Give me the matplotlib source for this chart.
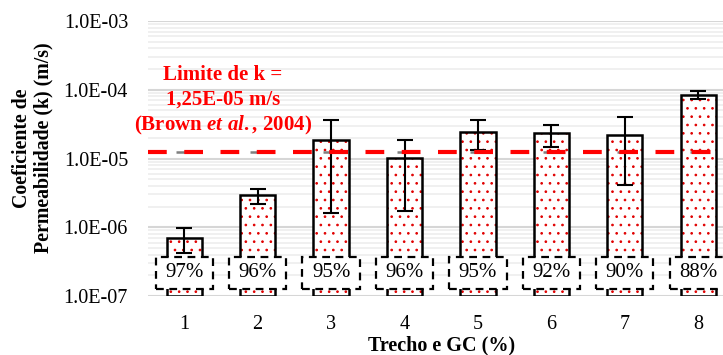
import matplotlib
matplotlib.use("Agg")
import matplotlib.pyplot as plt
from matplotlib.patches import Rectangle
from matplotlib.ticker import FixedLocator, FuncFormatter, LogLocator, NullFormatter
import numpy as np

# dados
trechos = ["1", "2", "3", "4", "5", "6", "7", "8"]
gc_labels = ["97%", "96%", "95%", "96%", "95%", "92%", "90%", "88%"]
k_medio = [6.9e-7, 2.9e-6, 1.86e-5, 1.03e-5, 2.45e-5, 2.32e-5, 2.2e-5, 8.4e-5]
k_max = [9.7e-7, 3.6e-6, 3.6e-5, 1.86e-5, 3.6e-5, 3.1e-5, 3.97e-5, 9.6e-5]
k_min = [4.2e-7, 2.2e-6, 1.63e-6, 1.7e-6, 1.33e-5, 1.49e-5, 4.1e-6, 7.3e-5]
k_limite = 1.25e-5

plt.rcParams['font.family'] = ['Liberation Serif', 'DejaVu Serif']
plt.rcParams['mathtext.fontset'] = 'custom'
plt.rcParams['mathtext.rm'] = 'Liberation Serif:bold'
plt.rcParams['mathtext.it'] = 'Liberation Serif:italic:bold'
plt.rcParams['hatch.linewidth'] = 0.7

W, H = 723, 355
fig = plt.figure(figsize=(W / 100, H / 100), dpi=100)
# eixo passa um pouco da borda direita como no original
ax = fig.add_axes([147.5 / W, (H - 296) / H, (735 - 147.5) / W, (296 - 21) / H])

x = np.arange(1, len(trechos) + 1)
base = 1e-7
alturas = np.array(k_medio) - base
err_low = np.array(k_medio) - np.array(k_min)
err_up = np.array(k_max) - np.array(k_medio)

ax.set_yscale('log')
ax.set_ylim(1e-7, 1e-3)
ax.set_xlim(0.5, 8.5)

# grade
ax.yaxis.set_major_locator(FixedLocator([1e-7, 1e-6, 1e-5, 1e-4, 1e-3]))
ax.yaxis.set_minor_locator(LogLocator(base=10, subs=np.arange(2, 10)))
ax.yaxis.set_minor_formatter(NullFormatter())
ax.yaxis.set_major_formatter(FuncFormatter(lambda v, p: "1.0E%03d" % int(round(np.log10(v)))))
ax.grid(True, which='major', axis='y', color='#d6d6d6', lw=1.5, zorder=0)
ax.grid(True, which='minor', axis='y', color='#eeeeee', lw=1.2, zorder=0)
ax.set_axisbelow(True)
for s in ax.spines.values():
    s.set_visible(False)
ax.tick_params(axis='both', which='both', length=0)
ax.tick_params(axis='y', labelsize=14.5, pad=14)
ax.tick_params(axis='x', labelsize=14.5, pad=14)
ax.set_xticks(x)
ax.set_xticklabels(trechos)

# barras: pontilhado vermelho + contorno preto
ax.bar(x, alturas, bottom=base, width=0.48, facecolor='white', edgecolor='#e00000',
       hatch='..', linewidth=0, zorder=2)
ax.bar(x, alturas, bottom=base, width=0.48, facecolor='none', edgecolor='black',
       linewidth=1.8, zorder=3)
ax.errorbar(x, k_medio, yerr=[err_low, err_up], fmt='none', ecolor='black',
            elinewidth=1.5, capsize=5.5, capthick=1.5, zorder=4)

# linha limite
ax.plot(x, [k_limite] * len(x), ls='none', marker='_', ms=11, mew=1.8,
        color='#7f7f7f', zorder=5)
ax.axhline(k_limite, color='red', lw=3, dashes=(4.5, 4.2), zorder=6)

# caixas com o GC
for xi, lab in zip(x, gc_labels):
    ax.add_patch(Rectangle((xi - 0.39, 1.26e-7), 0.78, 3.73e-7 - 1.26e-7,
                           facecolor='white', edgecolor='black', lw=1.6,
                           ls=(0, (3.5, 2.5)), zorder=7))
    ax.text(xi, 2.17e-7, lab, ha='center', va='center', fontsize=15, zorder=8)

ax.set_xlabel("Trecho e GC (%)", fontsize=14.5, fontweight='bold', labelpad=1)

fig.text(33 / W, 1 - 148 / H, "Coeficiente de\nPermeabilidade (k) (m/s)",
         rotation=90, ha='center', va='center', multialignment='center',
         fontsize=14.3, fontweight='bold', linespacing=1.1)

fig.text(223 / W, 1 - 75 / H, "Limite de k =", color='red', ha='center', va='center',
         fontsize=15, fontweight='bold')
fig.text(223 / W, 1 - 100 / H, "1,25E-05 m/s", color='red', ha='center', va='center',
         fontsize=15, fontweight='bold')
fig.text(223 / W, 1 - 125 / H, r"$\mathrm{(Brown\ }\mathit{et\ al.}\mathrm{{,}\ 2004)}$",
         color='red', ha='center', va='center', fontsize=15)

fig.savefig("out.png", dpi=100)
